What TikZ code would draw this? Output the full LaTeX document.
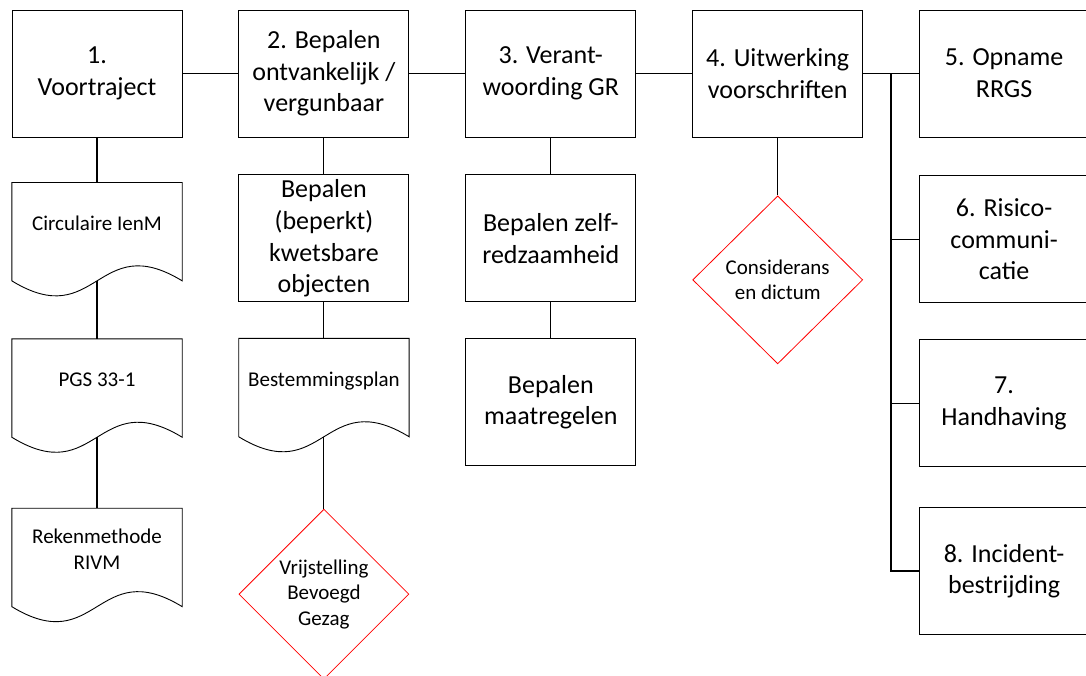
\documentclass[tikz,border=0pt]{standalone}
\usepackage{fontspec}
\setmainfont{Carlito}
\usetikzlibrary{shapes.geometric, positioning, calc}

\begin{document}
\begin{tikzpicture}[x=1pt, y=1pt,
  blk/.style={rectangle, draw=black, line width=0.9pt,
    minimum width=170pt, minimum height=127pt, inner sep=2pt,
    align=center, font=\fontsize{26}{31.7}\selectfont},
  doc/.style={rectangle, minimum width=170pt, minimum height=98pt,
    inner sep=2pt, text depth=16pt,
    align=center, font=\fontsize{21}{25.6}\selectfont},
  docline/.style={draw=black, line width=0.9pt},
  dec/.style={diamond, draw=red, line width=0.8pt, aspect=1,
    minimum width=170pt, minimum height=170pt, inner sep=0pt,
    align=center, font=\fontsize{21}{25.6}\selectfont},
  ln/.style={line width=1.1pt},
  bus/.style={line width=1.8pt}
]
  \useasboundingbox (0,0) rectangle (1086,-675);
  % Main steps
  \node[blk] (box1) at (97,-73.5) {1.\\Voortraject};
  \node[blk, right=56pt of box1] (box2) {2. Bepalen\\ontvankelijk /\\vergunbaar};
  \node[blk, right=56pt of box2] (box3) {3. Verant-\\woording GR};
  \node[blk, right=56pt of box3] (box4) {4. Uitwerking\\voorschriften};
  \node[blk, right=55.5pt of box4] (box5) {5. Opname\\RRGS};
  \node[blk, below=38pt of box5] (box6) {6. Risico-\\communi-\\catie};
  \node[blk, below=36pt of box6] (box7) {7.\\Handhaving};
  \node[blk, below=40pt of box7] (box8) {8. Incident-\\bestrijding};
  % Column 1
  \node[doc, below=45pt of box1] (circ) {Circulaire IenM};
  \node[doc, below=58pt of circ] (pgs) {PGS 33-1};
  \node[doc, below=71pt of pgs] (reken) {Rekenmethode\\RIVM};
  % Column 2
  \node[blk, below=37pt of box2] (kwets) {Bepalen\\(beperkt)\\kwetsbare\\objecten};
  \node[doc, below=36pt of kwets] (bestem) {Bestemmingsplan};
  \node[dec, below=72pt of bestem] (vrij) {Vrijstelling\\Bevoegd\\Gezag};
  % Column 3
  \node[blk, below=37pt of box3] (zelf) {Bepalen zelf-\\redzaamheid};
  \node[blk, below=36pt of zelf] (maatr) {Bepalen\\maatregelen};
  % Column 4
  \node[dec, minimum height=168pt, below=58pt of box4] (consid) {Considerans\\en dictum};
  \coordinate[right=28pt of box4] (bus);
  % Document outlines
  \foreach \d in {circ,pgs,reken,bestem}
    \draw[docline] (\d.north west) -- (\d.north east) -- (\d.south east)
      .. controls ($(\d.south)+(0,52)$) and ($(\d.south)+(0,-52)$) .. (\d.south west) -- cycle;
  % Connectors
  \draw[ln] (box1) -- (box2);
  \draw[ln] (box2) -- (box3);
  \draw[ln] (box3) -- (box4);
  \draw[ln] (box1) -- (circ);
  \draw[ln] (circ.south) -- (pgs);
  \draw[ln] (pgs.south) -- (reken);
  \draw[ln] (box2) -- (kwets);
  \draw[ln] (kwets) -- (bestem);
  \draw[ln] (bestem.south) -- (vrij);
  \draw[ln] (box3) -- (zelf);
  \draw[ln] (zelf) -- (maatr);
  \draw[ln] (box4) -- (consid);
  \draw[bus] (box4) -- (bus) -- (bus |- box8) -- (box8);
  \draw[ln] (bus) -- (box5);
  \draw[ln] (bus |- box6) -- (box6);
  \draw[ln] (bus |- box7) -- (box7);
\end{tikzpicture}
\end{document}
